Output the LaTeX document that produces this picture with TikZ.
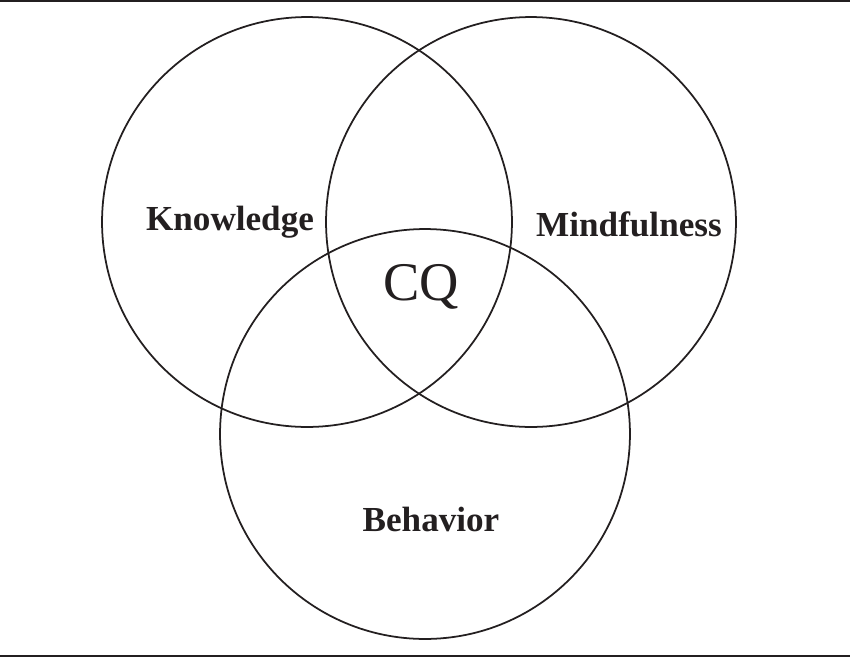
\documentclass[tikz,border=0pt]{standalone}
\usepackage{fontspec}
\setmainfont{Liberation Serif}
\usetikzlibrary{positioning}
\definecolor{ink}{HTML}{231F20}
\tikzset{
    venn/.style={circle, draw=ink, line width=1pt, minimum size=8.2cm, inner sep=0pt},
    setname/.style={anchor=base, text=ink, font=\fontsize{20}{24}\selectfont\bfseries},
    rule/.style={draw=ink, line width=1.2pt},
}
\begin{document}
\begin{tikzpicture}[x=0.02cm, y=-0.02cm]
    \useasboundingbox (0,0) rectangle (850,657);

    \coordinate (tl) at (0,1);
    \coordinate (tr) at (850,1);
    \coordinate (bl) at (0,656);
    \coordinate (br) at (850,656);
    \draw[rule] (tl) -- (tr);
    \draw[rule] (bl) -- (br);

    \node[venn] (know) at (307,222) {};
    \node[venn] (mind) at (531,222) {};
    \node[venn] (beh) at (425,434) {};

    \node[setname] (knowl) at (230,230) {Knowledge};
    \node[setname] (mindl) at (629,236) {Mindfulness};
    \node[setname] (behl) at (431,531) {Behavior};
    \node[anchor=base, text=ink, font=\fontsize{31}{36}\selectfont] (cq) at (421,300) {CQ};
\end{tikzpicture}
\end{document}
